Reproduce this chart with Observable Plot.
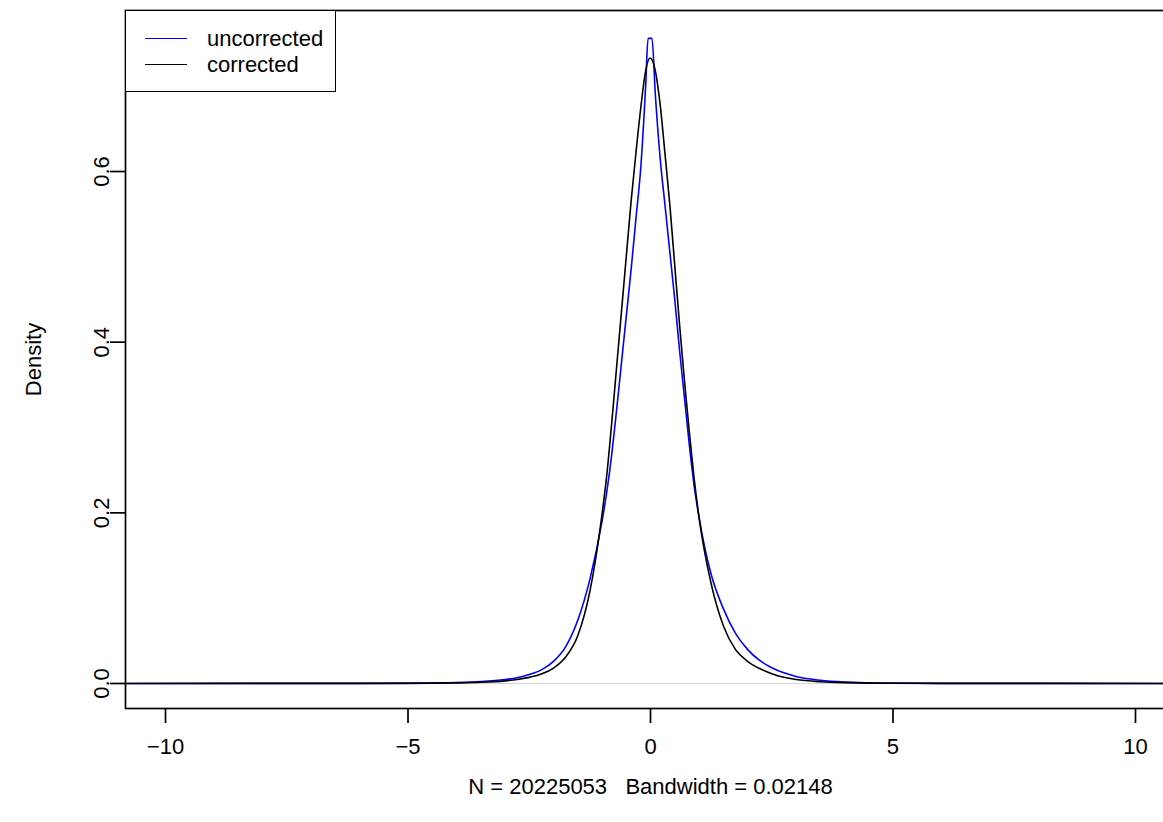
<!DOCTYPE html>
<html>
<head>
<meta charset="utf-8">
<script src="https://cdn.jsdelivr.net/npm/d3@7"></script>
<script src="https://cdn.jsdelivr.net/npm/@observablehq/plot@0.6"></script>
<style>
  html, body { margin: 0; padding: 0; background: #fff; overflow: hidden; }
  #wrap { position: relative; width: 1175px; height: 822px; font-family: "Liberation Sans", Arial, sans-serif; }
  #legend { position: absolute; left: 125px; top: 10px; width: 211px; height: 82px; box-sizing: border-box;
            border: 1.7px solid #000; background: #fff; }
  .lg-row { position: absolute; left: 0; height: 26px; width: 100%; }
  .lg-line { position: absolute; left: 19px; width: 42px; top: 12px; height: 0; border-top: 1.7px solid #000; }
  .lg-text { position: absolute; left: 81px; top: 0; font-size: 22px; line-height: 26px; color: #000; white-space: nowrap; }
</style>
</head>
<body>
<div id="wrap"><div id="chart"></div><div id="legend"></div></div>
<script>
// ---- data ----
const seriesNames = ["uncorrected", "corrected"];
const seriesColors = ["#0000ff", "#000000"];

const uncorrectedX = [-10.8, -8, -6, -5, -4, -3.5, -3, -2.75, -2.5, -2.25, -2, -1.75, -1.5, -1.25, -1, -0.9, -0.8, -0.7, -0.6, -0.5, -0.4, -0.3, -0.2, -0.1, -0.05, 0.03, 0.1, 0.2, 0.3, 0.4, 0.5, 0.6, 0.7, 0.8, 0.9, 1, 1.25, 1.5, 1.75, 2, 2.25, 2.5, 2.75, 3, 3.5, 4, 5, 6, 8, 10.8];
const uncorrectedY = [0, 0.0001, 0.0002, 0.0004, 0.0011, 0.0022, 0.0046, 0.0068, 0.0105, 0.016, 0.026, 0.043, 0.074, 0.122, 0.190, 0.225, 0.268, 0.320, 0.375, 0.430, 0.485, 0.545, 0.605, 0.700, 0.756, 0.756, 0.690, 0.615, 0.560, 0.505, 0.450, 0.390, 0.335, 0.280, 0.232, 0.195, 0.128, 0.088, 0.059, 0.040, 0.027, 0.0185, 0.0125, 0.0083, 0.0038, 0.0018, 0.0005, 0.0002, 0.0001, 0];

const correctedX = [-10.8, -8, -6, -5, -4, -3.5, -3, -2.75, -2.5, -2.25, -2, -1.75, -1.5, -1.25, -1, -0.9, -0.8, -0.7, -0.6, -0.5, -0.4, -0.3, -0.2, -0.1, -0.01, 0.1, 0.2, 0.3, 0.4, 0.5, 0.6, 0.7, 0.8, 0.9, 1, 1.25, 1.5, 1.75, 2, 2.25, 2.5, 2.75, 3, 3.5, 4, 5, 6, 8, 10.8];
const correctedY = [0, 0.0001, 0.0001, 0.0002, 0.0007, 0.0014, 0.0031, 0.0047, 0.0072, 0.011, 0.018, 0.031, 0.056, 0.108, 0.198, 0.245, 0.305, 0.370, 0.435, 0.500, 0.565, 0.622, 0.675, 0.718, 0.733, 0.718, 0.678, 0.620, 0.560, 0.490, 0.420, 0.355, 0.295, 0.240, 0.195, 0.117, 0.068, 0.040, 0.026, 0.0175, 0.0115, 0.0073, 0.0047, 0.0021, 0.0010, 0.0003, 0.0001, 0.0001, 0];

const xTicks = [-10, -5, 0, 5, 10];
const yTicks = [0, 0.2, 0.4, 0.6];
const yLabel = "Density";
const sampleN = 20225053;
const bandwidth = 0.02148;
const xDomain = [-10.825, 10.825];
const yDomain = [-0.0293, 0.7887];

// ---- build tables ----
const uncorrected = uncorrectedX.map((x, i) => ({x, y: uncorrectedY[i]}));
const corrected = correctedX.map((x, i) => ({x, y: correctedY[i]}));
const xLabel = `N = ${sampleN}\u00a0\u00a0 Bandwidth = ${bandwidth}`;
const minus = d => d < 0 ? "\u2212" + Math.abs(d) : String(d);

const FONT = "Liberation Sans, Arial, sans-serif";
const LW = 1.7;

const chart = Plot.plot({
  width: 1175,
  height: 822,
  marginLeft: 125,
  marginRight: 0,
  marginTop: 10,
  marginBottom: 114,
  x: {domain: xDomain, label: null},
  y: {domain: yDomain, label: null},
  style: {fontFamily: FONT, fontSize: "22px", color: "#000", background: "#fff"},
  marks: [
    Plot.ruleY([0], {stroke: "#c8c8c8", strokeWidth: 0.8}),
    Plot.line(uncorrected, {x: "x", y: "y", stroke: seriesColors[0], strokeWidth: 1.6, curve: "monotone-x", clip: true}),
    Plot.line(corrected, {x: "x", y: "y", stroke: seriesColors[1], strokeWidth: 1.6, curve: "monotone-x", clip: true}),
    Plot.frame({stroke: "#000", strokeWidth: LW}),
    Plot.axisX({ticks: xTicks, tickSize: 15, tickPadding: 15, tickFormat: minus, fontSize: 22, strokeWidth: LW, label: null}),
    Plot.axisY({ticks: yTicks, tickSize: 15, tickFormat: () => "", strokeWidth: LW, label: null}),
    Plot.text(yTicks, {y: d => d, text: d => d.toFixed(1), frameAnchor: "left", textAnchor: "middle", dx: -24, rotate: -90, fontSize: 22, fill: "#000"}),
    Plot.text([yLabel], {text: d => d, frameAnchor: "left", textAnchor: "middle", dx: -92, rotate: -90, fontSize: 22, fill: "#000"}),
    Plot.text([xLabel], {text: d => d, frameAnchor: "bottom", dy: 85, fontSize: 22, fill: "#000"})
  ]
});
document.getElementById("chart").appendChild(chart);

// ---- legend ----
const legend = document.getElementById("legend");
seriesNames.forEach((name, i) => {
  const row = document.createElement("div");
  row.className = "lg-row";
  row.style.top = (15 + i * 26) + "px";
  const ln = document.createElement("div");
  ln.className = "lg-line";
  ln.style.borderTopColor = seriesColors[i];
  const tx = document.createElement("div");
  tx.className = "lg-text";
  tx.textContent = name;
  row.appendChild(ln);
  row.appendChild(tx);
  legend.appendChild(row);
});
</script>
</body>
</html>
